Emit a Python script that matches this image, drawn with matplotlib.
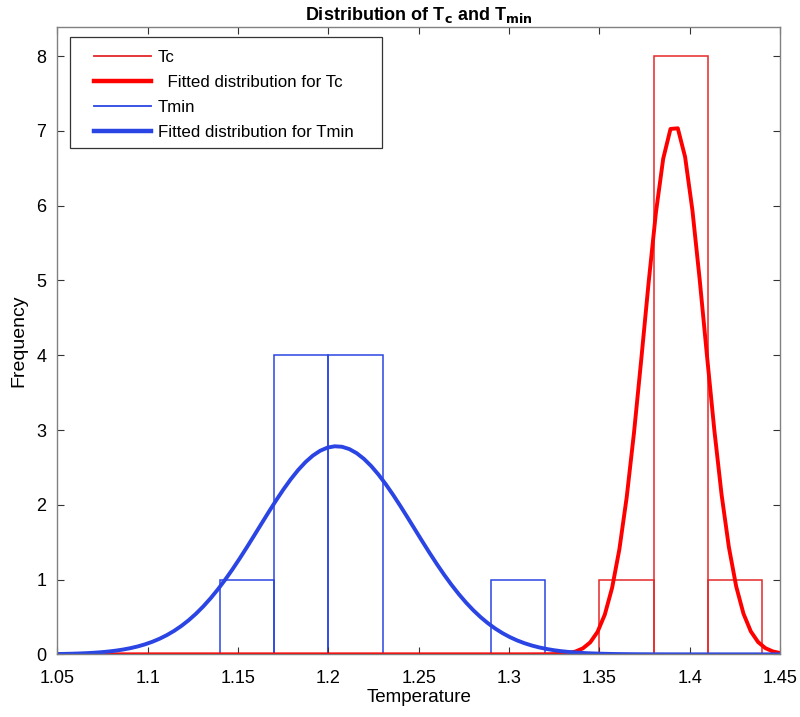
import numpy as np
import matplotlib
matplotlib.use("Agg")
import matplotlib.pyplot as plt
from matplotlib.lines import Line2D
from matplotlib.patches import Rectangle

plt.rcParams['font.family'] = ['Liberation Sans', 'DejaVu Sans']

# ---- data ----
bin_width = 0.03
tc_edges = [1.35, 1.38, 1.41]
tc_counts = [1, 8, 1]
tmin_edges = [1.14, 1.17, 1.20, 1.23, 1.26, 1.29]
tmin_counts = [1, 4, 4, 0, 0, 1]

# fitted normal distributions (mean, std, total count)
tc_mu, tc_sigma, tc_n = 1.3915, 0.0169, 10
tmin_mu, tmin_sigma, tmin_n = 1.2045, 0.0430, 10

x_ticks = [1.05, 1.1, 1.15, 1.2, 1.25, 1.3, 1.35, 1.4, 1.45]
x_tick_labels = ['1.05', '1.1', '1.15', '1.2', '1.25', '1.3', '1.35', '1.4', '1.45']
y_ticks = [0, 1, 2, 3, 4, 5, 6, 7, 8]
legend_labels = ['Tc', '  Fitted distribution for Tc', 'Tmin', 'Fitted distribution for Tmin']

x_fit = np.linspace(1.05, 1.45, 100)


def fitted(mu, sigma, n):
    return n * bin_width / (sigma * np.sqrt(2 * np.pi)) * np.exp(-0.5 * ((x_fit - mu) / sigma) ** 2)


RED_BAR = '#e5282a'
RED_FIT = '#ff0000'
BLUE = '#2a45e3'

fig = plt.figure(figsize=(8, 7.17), dpi=100)
ax = fig.add_axes([0.0716, 0.0874, 0.9034, 0.8749])

ax.bar(tc_edges, tc_counts, width=bin_width, align='edge', fill=False,
       edgecolor=RED_BAR, linewidth=1.1)
ax.plot(x_fit, fitted(tc_mu, tc_sigma, tc_n), color=RED_FIT, linewidth=2.8)
ax.bar(tmin_edges, tmin_counts, width=bin_width, align='edge', fill=False,
       edgecolor=BLUE, linewidth=1.1)
ax.plot(x_fit, fitted(tmin_mu, tmin_sigma, tmin_n), color=BLUE, linewidth=2.8)

ax.set_xlim(1.05, 1.45)
ax.set_ylim(0, 8.39)
ax.set_xticks(x_ticks)
ax.set_xticklabels(x_tick_labels)
ax.set_yticks(y_ticks)
ax.tick_params(direction='in', length=5, width=0.8, top=True, right=True,
               labelsize=13, color='#333333')
ax.tick_params(axis='x', pad=11)
ax.tick_params(axis='y', pad=8)
for s in ax.spines.values():
    s.set_color('#808080')
    s.set_linewidth(1.0)

ax.set_xlabel('Temperature', fontsize=13.5, labelpad=1.5)
ax.set_ylabel('Frequency', fontsize=14, labelpad=6)
ax.set_title(r'Distribution of T$_\mathbf{c}$ and T$_\mathbf{min}$',
             fontsize=13, fontweight='bold', pad=5,
             family=['Liberation Sans Narrow', 'Liberation Sans', 'DejaVu Sans'])

# legend box (MATLAB-style, wide padding)
ax.add_patch(Rectangle((0.0176, 0.8066), 0.4317, 0.1770, transform=ax.transAxes,
                       fill=True, facecolor='white', edgecolor='#333333',
                       linewidth=0.9, zorder=4))
h = [Line2D([], [], color=RED_BAR, lw=1.3),
     Line2D([], [], color=RED_FIT, lw=3.2),
     Line2D([], [], color=BLUE, lw=1.3),
     Line2D([], [], color=BLUE, lw=3.2)]
leg = ax.legend(h, legend_labels, loc='upper left', bbox_to_anchor=(0.0508, 0.9636),
                fontsize=12.2, frameon=False,
                handlelength=3.37, handletextpad=0.4, labelspacing=0.59,
                borderpad=0.0, borderaxespad=0.0)
leg.set_zorder(5)

fig.savefig('out.png', dpi=100)
